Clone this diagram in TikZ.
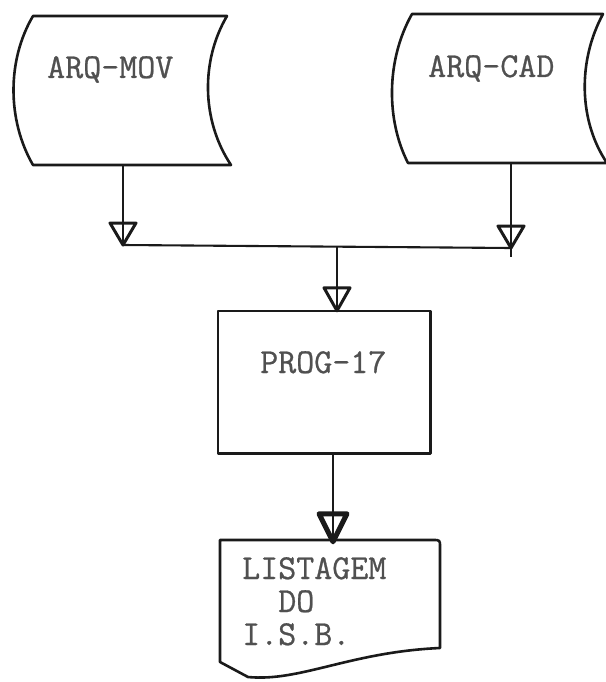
\documentclass[tikz,border=0pt]{standalone}
\usepackage{fontspec}
\newfontfamily\typew[FakeBold=0.7]{Latin Modern Mono}
\usetikzlibrary{calc}
\definecolor{ink}{HTML}{1A1A1A}
\definecolor{typeink}{HTML}{505050}
\begin{document}
\begin{tikzpicture}[x=1pt,y=-1pt,
  outline/.style={draw=ink,line width=2.6pt,line join=round},
  conn/.style={draw=ink,line width=2.1pt},
  tri/.style={draw=ink,line width=3pt,line join=round,fill=white},
  trifat/.style={draw=ink,line width=5pt,line join=round,fill=white},
  box/.style 2 args={rectangle,inner sep=0pt,minimum width=#1,minimum height=#2},
  lbl/.style={font=\fontsize{35}{33}\typew,text=typeink,inner sep=0pt,anchor=base west}]
\useasboundingbox (0,0) rectangle (605,682);
\fill[white] (0,0) rectangle (605,682);

% shape areas
\node[box={197pt}{149pt}] (mov) at (131.5,90.5) {};
\node[box={195pt}{148pt}] (cad) at (507.5,89) {};
\node[box={212pt}{142pt}] (prog) at (324,382) {};
\node[box={220pt}{122pt}] (doc) at (330,601) {};

% outlines
\draw[outline] (33,16) -- (227,16) .. controls (201,60) and (201,120) .. (231,165) -- (33,165) .. controls (7,120) and (7,60) .. cycle;
\draw[outline] (412,14) -- (603,14) .. controls (578,60) and (578,120) .. (607,163) -- (408,163) .. controls (386,120) and (386,60) .. cycle;
\draw[outline] (prog.north west) rectangle (prog.south east);
\draw[outline] (220,662) -- (220,540) -- (433,540) .. controls (440,540) .. (440,547) -- (440,648) .. controls (350,652) and (300,682) .. (248,677) -- cycle;

% texts
\node[lbl] (movt) at (47,78) {ARQ-MOV};
\node[lbl] (cadt) at (428,77) {ARQ-CAD};
\node[lbl] (progt) at (260,373) {PROG-17};
\node[lbl] (doct1) at (242,579) {LISTAGEM};
\node[lbl] (doct2) at (242,612) {\phantom{LI}DO};
\node[lbl] (doct3) at (242,645) {I.S.B.};

% junction points and arrow tips
\coordinate (jl) at (123,245);
\coordinate (jr) at (511,248);
\coordinate (jc) at (337,247);
\coordinate (cadend) at (511,257);
\coordinate (progin) at ([xshift=13pt]prog.north);
\coordinate (progout) at ([xshift=9pt]prog.south);
\coordinate (docin) at ([xshift=3pt]doc.north);

% connectors
\draw[conn] (jl) -- (jr);

% open triangle arrowheads
\draw[tri] (jl) -- ++(-13,-22) -- ++(26,0) -- cycle;
\draw[tri] (jr) -- ++(-13,-22) -- ++(26,0) -- cycle;
\draw[tri] (progin) -- ++(-13,-23) -- ++(26,0) -- cycle;
\draw[trifat] ([yshift=-2pt]docin) -- ++(-14,-28) -- ++(28,0) -- cycle;

\draw[conn] ([xshift=-8.5pt]mov.south) -- (jl);
\draw[conn] ([xshift=3.5pt]cad.south) -- (cadend);
\draw[conn] (jc) -- (progin);
\draw[conn] (progout) -- (docin);
\end{tikzpicture}
\end{document}
